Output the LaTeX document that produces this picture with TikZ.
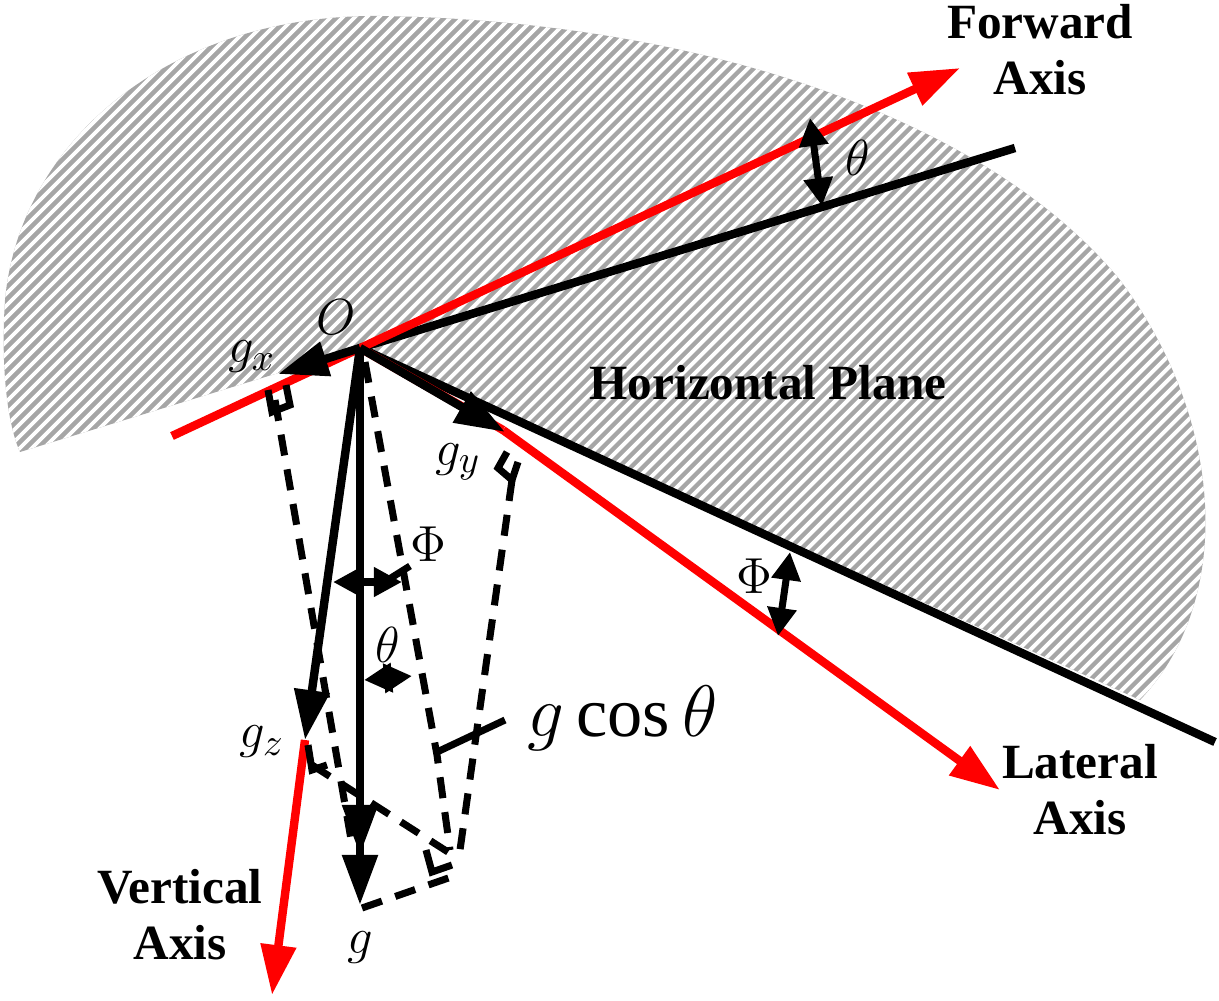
\documentclass[tikz,border=0pt]{standalone}
\usepackage{fontspec}
\setmainfont{Liberation Serif}
\usetikzlibrary{arrows.meta}
\tikzset{
	axis/.style={red, line width=2.4pt, -{Triangle[length=5mm,width=3.4mm]}},
	vec/.style={black, line width=2.4pt, -{Triangle[length=5mm,width=3.4mm]}},
	proj/.style={black, line width=2pt, dash pattern=on 6pt off 4pt},
	ang/.style={black, line width=2pt, {Triangle[length=2.8mm,width=2.8mm]}-{Triangle[length=2.8mm,width=2.8mm]}},
	rmark/.style={black, line width=2pt},
	lbl/.style={font=\fontsize{14}{16}\selectfont\bfseries, align=center},
	sym/.style={font=\fontsize{15}{17}\selectfont}
}
\begin{document}
\begin{tikzpicture}[x=0.01cm, y=-0.01cm]
	\useasboundingbox (0,0) rectangle (1219,1000);
	% shaded horizontal plane
	\begin{scope}
		\clip (360,348) -- (1140,700) .. controls (1235,600) and (1225,420) .. (1120,280)
			.. controls (980,110) and (680,20) .. (380,16) .. controls (170,14) and (20,140) .. (5,300)
			.. controls (0,380) and (10,430) .. (20,452) -- cycle;
		\fill[gray!70] (0,0) rectangle (1219,1000);
		\foreach \i in {-1000,-988,...,1300}
			\draw[white, line width=1.1pt] (\i,1000) -- ++(1000,-1000);
	\end{scope}
	\coordinate (O) at (360,348);
	% axes
	\draw[black, line width=2.4pt] (O) -- (1015,148);
	\draw[black, line width=2.4pt] (O) -- (1215,742);
	\draw[axis] (172,436) -- (960,68);
	\draw[red, line width=2.4pt] (503,430) -- (O);
	\draw[axis] (503,430) -- (1000,790);
	\draw[axis] (305,740) -- (272,995);
	% components
	\draw[vec] (O) -- (278,374);
	\draw[vec] (O) -- (505,432);
	\draw[vec] (O) -- (305,740);
	\draw[black, line width=2.4pt, -{Triangle[length=5mm,width=3.4mm]Triangle[length=5mm,width=3.4mm]}] (O) -- (360,905);
	% projections
	\draw[proj] (275,400) -- (352,845);
	\draw[proj] (312,765) -- (448,852);
	\draw[proj] (362,908) -- (457,875);
	\draw[proj] (365,362) -- (437,755) -- (450,850);
	\draw[proj] (512,480) -- (460,850);
	% right-angle marks
	\draw[rmark] (268,390) -- (272,412) -- (290,405) -- (286,385);
	\draw[rmark] (507,452) -- (498,468) -- (512,480) -- (518,462);
	\draw[rmark] (308,745) -- (312,770) -- (327,765);
	\draw[rmark] (426,850) -- (432,872) -- (452,865);
	% angle markers
	\draw[ang] (333,582) -- (402,582);
	\draw[rmark] (375,588) -- (410,566);
	\draw[ang] (364,680) -- (412,676);
	\draw[rmark] (437,752) -- (505,720);
	\draw[ang] (790,552) -- (778,636);
	\draw[ang] (810,118) -- (822,206);
	% labels
	\node[sym] (lO) at (336,317) {$O$};
	\node[sym] (lgx) at (252,357) {$g_x$};
	\node[sym] (lgy) at (458,462) {$g_y$};
	\node[sym] (lgz) at (262,742) {$g_z$};
	\node[sym] (lg) at (360,948) {$g$};
	\node[sym] (lphi1) at (428,544) {$\Phi$};
	\node[sym] (lth1) at (388,645) {$\theta$};
	\node[sym] (lphi2) at (754,576) {$\Phi$};
	\node[sym] (lth2) at (858,158) {$\theta$};
	\node[font=\fontsize{20}{22}\selectfont, anchor=west] (lgc) at (515,718) {$g\cos\theta$};
	\node[lbl] (lfwd) at (1040,50) {Forward\\Axis};
	\node[lbl] (llat) at (1080,790) {Lateral\\Axis};
	\node[lbl] (lvert) at (180,915) {Vertical\\Axis};
	\node[lbl] (lplane) at (768,383) {Horizontal Plane};
\end{tikzpicture}
\end{document}
